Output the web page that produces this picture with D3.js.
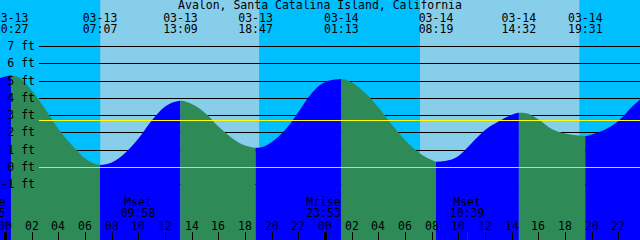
<!DOCTYPE html>
<html>
<head>
<meta charset="utf-8">
<script src="https://cdnjs.cloudflare.com/ajax/libs/d3/7.8.5/d3.min.js"></script>
<style>
    body { margin: 0; background: #fff; }
    svg { display: block; font-family: "DejaVu Sans Mono", monospace; font-size: 11.5px; }
</style>
</head>
<body>
<svg id="tideGraph" width="640" height="240"></svg>
<script>
var title = "Avalon, Santa Catalina Island, California"

// window shown on the graph
var startTime = "2024-03-12 23:37"
var endTime = "2024-03-14 23:37"

// tide height (ft), hours counted from 03-13 00:00
var sampleHours = [-1, 0, 1, 2, 3, 4, 5, 6, 7, 8, 9, 10, 11, 12, 13, 14, 15, 16, 17, 18, 19, 20, 21, 22, 23, 24,
    25, 26, 27, 28, 29, 30, 31, 32, 33, 34, 35, 36, 37, 38, 39, 40, 41, 42, 43, 44, 45, 46, 47, 48]
var sampleFeet = [5.0, 5.23, 5.19, 4.42, 3.35, 2.20, 1.27, 0.49, 0.13, 0.26, 0.81, 1.65, 2.69, 3.50, 3.82, 3.64,
    3.12, 2.34, 1.68, 1.24, 1.12, 1.45, 2.14, 3.18, 4.28, 4.92, 5.08, 4.89, 4.28, 3.44, 2.46, 1.56, 0.84, 0.40,
    0.35, 0.64, 1.39, 2.14, 2.63, 3.03, 3.12, 2.75, 2.20, 1.94, 1.82, 1.88, 2.17, 2.66, 3.47, 4.16]

// highs and lows
var extremeTimes = ["2024-03-13 00:27", "2024-03-13 07:07", "2024-03-13 13:09", "2024-03-13 18:47",
    "2024-03-14 01:13", "2024-03-14 08:19", "2024-03-14 14:32", "2024-03-14 19:31"]
var extremeFeet = [5.30, 0.12, 3.83, 1.12, 5.09, 0.31, 3.14, 1.79]
var extremeType = ["high", "low", "high", "low", "high", "low", "high", "low"]

// daylight
var sunrise = ["2024-03-13 07:08", "2024-03-14 07:07"]
var sunset = ["2024-03-13 19:03", "2024-03-14 19:04"]

// moon
var moonNames = ["Mrise", "Mset", "Mrise", "Mset"]
var moonTimes = ["2024-03-12 22:45", "2024-03-13 09:58", "2024-03-13 23:53", "2024-03-14 10:39"]

var feetTicks = [7, 6, 5, 4, 3, 2, 1, 0, -1]
var meanLevel = 2.7

var colors = {
    night: "#00bfff",
    day: "#87ceeb",
    rising: "#0000ff",
    falling: "#2e8b57",
    mean: "#ffff00",
    datum: "#a8d8f0"
}

function translate(x, y) {
    return "translate(" + x + "," + y + ")";
}

function drawTides() {
    var parse = d3.utcParse("%Y-%m-%d %H:%M")
    var t0 = parse(startTime)
    var t1 = parse(endTime)
    var base = parse("2024-03-13 00:00")

    var svg = d3.select("#tideGraph"),
        width = +svg.attr("width"),
        height = +svg.attr("height")

    var x = d3.scaleUtc().domain([t0, t1]).range([0, width])
    var y = d3.scaleLinear().domain([-1, 7]).range([184.3, 46])

    // background, night then day bands
    svg.append("rect").attr("width", width).attr("height", height).attr("fill", colors.night)
    svg.append("g").selectAll("rect")
        .data(sunrise)
        .enter().append("rect")
        .attr("x", (d, i) => x(parse(d)))
        .attr("width", (d, i) => x(parse(sunset[i])) - x(parse(d)))
        .attr("y", 0)
        .attr("height", height)
        .attr("fill", colors.day)

    // grid lines, behind the water
    var lineLeft = 39
    svg.append("g").selectAll("line")
        .data(feetTicks.filter(d => d != 0))
        .enter().append("line")
        .attr("x1", lineLeft).attr("x2", width)
        .attr("y1", d => Math.round(y(d)) + 0.5)
        .attr("y2", d => Math.round(y(d)) + 0.5)
        .attr("stroke", "#000")

    // curve points: samples plus extremes
    var points = []
    sampleHours.forEach((h, i) => {
        points.push({ t: new Date(+base + h * 3600e3), ft: sampleFeet[i] })
    })
    extremeTimes.forEach((s, i) => {
        points.push({ t: parse(s), ft: extremeFeet[i] })
    })
    points.sort((a, b) => a.t - b.t)

    var area = d3.area()
        .x(d => x(d.t))
        .y0(height)
        .y1(d => y(d.ft))
        .curve(d3.curveMonotoneX)

    svg.append("clipPath").attr("id", "water")
        .append("path").attr("d", area(points))

    // colour each stretch by the extreme it runs into
    var bounds = [t0].concat(extremeTimes.map(parse)).concat([t1])
    var segs = []
    for (var i = 0; i < bounds.length - 1; i++) {
        var next = i < extremeType.length ? extremeType[i] : (extremeType[i - 1] == "low" ? "high" : "low")
        segs.push({ a: bounds[i], b: bounds[i + 1], rising: next == "high" })
    }
    svg.append("g").attr("clip-path", "url(#water)")
        .selectAll("rect")
        .data(segs)
        .enter().append("rect")
        .attr("x", d => x(d.a))
        .attr("width", d => x(d.b) - x(d.a))
        .attr("y", 0)
        .attr("height", height)
        .attr("fill", d => d.rising ? colors.rising : colors.falling)

    // datum and mean lines on top
    svg.append("line")
        .attr("x1", lineLeft).attr("x2", width)
        .attr("y1", Math.round(y(0)) + 0.5).attr("y2", Math.round(y(0)) + 0.5)
        .attr("stroke", colors.datum)
    svg.append("line")
        .attr("x1", lineLeft).attr("x2", width)
        .attr("y1", Math.round(y(meanLevel)) + 0.5).attr("y2", Math.round(y(meanLevel)) + 0.5)
        .attr("stroke", colors.mean)

    // height labels
    svg.append("g").selectAll("text")
        .data(feetTicks)
        .enter().append("text")
        .attr("x", 35)
        .attr("y", d => y(d) + 4)
        .attr("text-anchor", "end")
        .text(d => d + " ft")

    // title and extreme labels
    svg.append("text")
        .attr("x", width / 2).attr("y", 9)
        .attr("text-anchor", "middle")
        .text(title)

    var top = svg.append("g").selectAll("g")
        .data(extremeTimes)
        .enter().append("g")
        .attr("transform", d => translate(x(parse(d)), 0))
        .attr("text-anchor", "middle")
    top.append("text").attr("y", 21.5).text(d => d.slice(5, 10))
    top.append("text").attr("y", 33).text(d => d.slice(11))

    // moon labels
    var moon = svg.append("g").selectAll("g")
        .data(moonTimes)
        .enter().append("g")
        .attr("transform", d => translate(x(parse(d)), 0))
        .attr("text-anchor", "middle")
    moon.append("text").attr("y", 206).text((d, i) => moonNames[i])
    moon.append("text").attr("y", 217).text(d => d.slice(11))
    moon.append("line")
        .attr("x1", 0.5).attr("x2", 0.5)
        .attr("y1", 232).attr("y2", height)
        .attr("stroke", "#333")

    // hour axis at the bottom
    var hours = x.ticks(d3.utcHour.every(2))
    var axis = svg.append("g").selectAll("g")
        .data(hours)
        .enter().append("g")
        .attr("transform", d => translate(Math.round(x(d)), 0))
    axis.append("text")
        .attr("y", 229.5)
        .attr("text-anchor", "middle")
        .text(d => d3.utcFormat("%H")(d))
    axis.append("rect")
        .attr("x", d => d.getUTCHours() == 0 ? -1 : 0)
        .attr("width", d => d.getUTCHours() == 0 ? 3 : 1)
        .attr("y", 232)
        .attr("height", height - 232)
        .attr("fill", "#000")
}

drawTides()
</script>
</body>
</html>
